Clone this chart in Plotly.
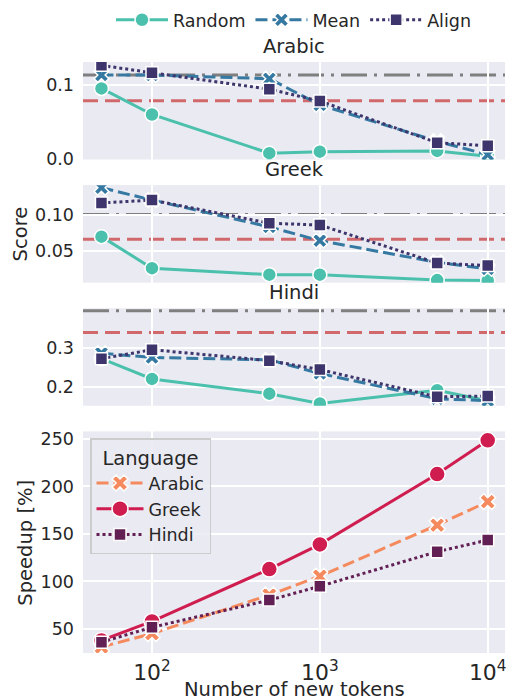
import plotly.graph_objects as go
from plotly.subplots import make_subplots

tokens = [50, 100, 500, 1000, 5000, 10000]
languages = ["Arabic", "Greek", "Hindi"]
methods = ["Random", "Mean", "Align"]

arabic_random = [0.095, 0.060, 0.008, 0.010, 0.011, 0.004]
arabic_mean = [0.113, 0.113, 0.108, 0.073, 0.024, 0.006]
arabic_align = [0.126, 0.116, 0.094, 0.078, 0.022, 0.018]

greek_random = [0.0695, 0.026, 0.017, 0.017, 0.0095, 0.009]
greek_mean = [0.137, 0.120, 0.083, 0.064, 0.034, 0.025]
greek_align = [0.116, 0.120, 0.088, 0.0855, 0.033, 0.0295]

hindi_random = [0.273, 0.221, 0.183, 0.158, 0.192, 0.165]
hindi_mean = [0.287, 0.276, 0.270, 0.235, 0.170, 0.165]
hindi_align = [0.273, 0.296, 0.268, 0.245, 0.175, 0.177]

ref_gray = [0.113, 0.100, 0.396]
ref_red = [0.0785, 0.0658, 0.340]

speedup_arabic = [31, 45, 85.7, 105.5, 159.3, 184]
speedup_greek = [37.8, 57.9, 113, 139, 213, 248.6]
speedup_hindi = [36, 51.7, 80.3, 94.9, 131.3, 143.5]

score_ticks = [[0.0, 0.1], [0.05, 0.10], [0.2, 0.3]]
score_ticktext = [["0.0", "0.1"], ["0.05", "0.10"], ["0.2", "0.3"]]
score_ranges = [[-0.0005, 0.1305], [0.006, 0.1406], [0.152, 0.4026]]
speedup_ticks = [50, 100, 150, 200, 250]

scores = [
    [arabic_random, arabic_mean, arabic_align],
    [greek_random, greek_mean, greek_align],
    [hindi_random, hindi_mean, hindi_align],
]

method_colors = ["#4bc1ad", "#3579a2", "#3e356c"]
method_dash = ["solid", "12px,5px", "3px,3px"]
method_symbol = ["circle", "x", "square"]
method_size = [14, 13, 12]

lang_colors = ["#f48a5d", "#cf1d50", "#611f53"]
lang_dash = ["12px,5px", "solid", "3px,3px"]
lang_symbol = ["x", "circle", "square"]
lang_size = [14, 16, 12]
speedups = [speedup_arabic, speedup_greek, speedup_hindi]

FONT = "DejaVu Sans"
TXT = "#262626"
BG = "#eaeaf2"
TICK = 17.5
LAB = 19.5

fig = make_subplots(rows=4, cols=1, shared_xaxes=True, vertical_spacing=0.04)

for r in range(3):
    for m in range(3):
        fig.add_trace(go.Scatter(
            x=tokens, y=scores[r][m], mode="lines+markers", name=methods[m],
            legendgroup=methods[m], showlegend=(r == 0), legend="legend",
            line=dict(color=method_colors[m], width=3, dash=method_dash[m]),
            marker=dict(symbol=method_symbol[m], size=method_size[m], color=method_colors[m],
                        line=dict(color="white", width=1.5)),
        ), row=r + 1, col=1)
    fig.add_hline(y=ref_gray[r], line=dict(color="#7f7f7f", width=3, dash="26px,7px,3px,7px"),
                  row=r + 1, col=1, layer="below")
    fig.add_hline(y=ref_red[r], line=dict(color="#d0686c", width=3, dash="15px,7px"),
                  row=r + 1, col=1, layer="below")

for i, lang in enumerate(languages):
    fig.add_trace(go.Scatter(
        x=tokens, y=speedups[i], mode="lines+markers", name=lang, legend="legend2",
        line=dict(color=lang_colors[i], width=3, dash=lang_dash[i]),
        marker=dict(symbol=lang_symbol[i], size=lang_size[i], color=lang_colors[i],
                    line=dict(color="white", width=1.5)),
    ), row=4, col=1)

# layout geometry
W, HT = 507, 700
L, R, T, B = 83, 2, 53, 47
H = HT - T - B
PW = W - L - R
def dom(top, bot):
    return [(HT - B - bot) / H, (HT - B - top) / H]

doms = [dom(53, 152), dom(178, 277), dom(303, 402), dom(428, 653)]

xrange_ = [1.589, 4.103]
for i in range(4):
    ax = "xaxis" if i == 0 else f"xaxis{i+1}"
    ay = "yaxis" if i == 0 else f"yaxis{i+1}"
    fig.layout[ax].update(type="log", range=xrange_, dtick=1, exponentformat="power",
                          showgrid=True, gridcolor="white", gridwidth=1.6, zeroline=False,
                          showline=False, ticks="", showticklabels=(i == 3), automargin=False,
                          tickfont=dict(family=FONT, size=TICK, color=TXT), ticklabelstandoff=4)
    if i < 3:
        fig.layout[ay].update(domain=doms[i], range=score_ranges[i], tickvals=score_ticks[i],
                              ticktext=score_ticktext[i])
    else:
        fig.layout[ay].update(domain=doms[i], range=[24.6, 258], tickvals=speedup_ticks)
    fig.layout[ay].update(showgrid=True, gridcolor="white", gridwidth=1.6, zeroline=False,
                          showline=False, ticks="", tickfont=dict(family=FONT, size=TICK, color=TXT),
                          ticklabelstandoff=8, automargin=False)

annots = []
title_y = [37, 162, 287]
for i, lang in enumerate(languages):
    annots.append(dict(text=lang, x=0.5, y=(HT - B - title_y[i]) / H, xref="paper", yref="paper",
                       showarrow=False, xanchor="center", yanchor="middle",
                       font=dict(family=FONT, size=LAB, color=TXT)))
annots.append(dict(text="Score", x=(20 - L) / PW, y=(HT - B - 228) / H, xref="paper",
                   yref="paper", showarrow=False, textangle=-90, xanchor="center", yanchor="middle",
                   font=dict(family=FONT, size=LAB, color=TXT)))
annots.append(dict(text="Speedup [%]", x=(26 - L) / PW, y=(HT - B - 541) / H, xref="paper",
                   yref="paper", showarrow=False, textangle=-90, xanchor="center", yanchor="middle",
                   font=dict(family=FONT, size=LAB, color=TXT)))
annots.append(dict(text="Number of new tokens", x=0.5, y=(HT - B - 690) / H, xref="paper",
                   yref="paper", showarrow=False, xanchor="center", yanchor="middle",
                   font=dict(family=FONT, size=LAB, color=TXT)))

fig.update_layout(
    width=W, height=HT,
    margin=dict(l=L, r=R, t=T, b=B),
    plot_bgcolor=BG, paper_bgcolor="white",
    font=dict(family=FONT, size=TICK, color=TXT),
    annotations=annots,
    legend=dict(orientation="h", x=0.5, xanchor="center", y=(HT - B + 8) / H, yanchor="top",
                font=dict(family=FONT, size=TICK, color=TXT), bgcolor="rgba(0,0,0,0)",
                itemwidth=52, tracegroupgap=0),
    legend2=dict(x=(90 - L) / PW, y=(HT - B - 435) / H, xanchor="left", yanchor="top",
                 title=dict(text="Language", side="top center", font=dict(family=FONT, size=LAB, color=TXT)),
                 font=dict(family=FONT, size=TICK, color=TXT), bgcolor="rgba(234,234,242,0.85)",
                 bordercolor="#cccccc", borderwidth=1.5, itemwidth=47),
)

fig.write_html("out.html", post_script="document.body.style.margin='0';",
               config={"displayModeBar": False})
